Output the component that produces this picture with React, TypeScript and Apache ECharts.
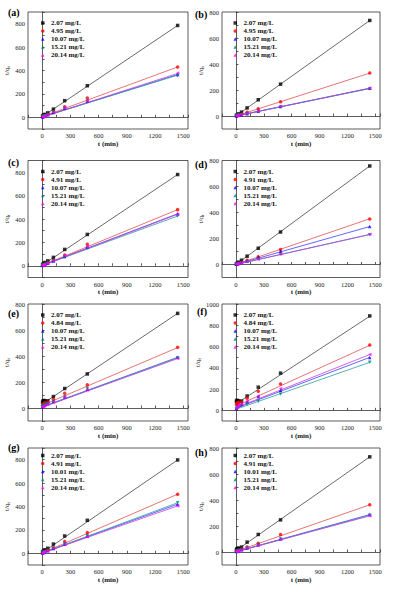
import React, { useEffect, useRef } from 'react';
import * as echarts from 'echarts';

const FONT = '"Liberation Serif", "Times New Roman", serif';

// sampling times (min)
const T_MIN = [5, 10, 20, 30, 60, 120, 240, 480, 1440];
const FIT_T = [0, 1440];

const COLORS = ['#000000', '#ff0000', '#0000ff', '#008080', '#ff00ff'];
const LINE_COLORS = ['#444444', '#e05050', '#3c3cff', '#2e9c9c', '#c43cd8'];
const SYMBOLS = ['rect', 'circle', 'triangle', 'triangle', 'triangle'];
const ROT = [0, 0, 0, 180, 90];

const PANEL_TAGS = ['(a)', '(b)', '(c)', '(d)', '(e)', '(f)', '(g)', '(h)'];
const Y_MAX = [900, 800, 900, 800, 800, 1000, 900, 800];

// (a)
const LABELS_A = ['2.07 mg/L', '4.95 mg/L', '10.07 mg/L', '15.21 mg/L', '20.14 mg/L'];
const VALUES_A = [
  [10, 15, 20, 25, 38, 70, 142, 270, 785],
  [5, 8, 12, 16, 25, 45, 90, 165, 430],
  [3, 6, 10, 14, 22, 40, 78, 140, 365],
  [3, 6, 10, 14, 22, 40, 76, 138, 358],
  [2, 5, 9, 13, 21, 40, 80, 140, 378],
];
const FIT_A = [[5, 785], [5, 430], [3, 365], [2, 360], [2, 375]];

// (b)
const LABELS_B = ['2.07 mg/L', '4.95 mg/L', '10.07 mg/L', '15.21 mg/L', '20.14 mg/L'];
const VALUES_B = [
  [4, 7, 12, 16, 30, 62, 125, 245, 735],
  [2, 4, 7, 9, 15, 28, 55, 110, 330],
  [1, 3, 5, 6, 10, 18, 37, 73, 213],
  [1, 3, 5, 6, 10, 18, 36, 72, 210],
  [1, 2, 4, 6, 10, 19, 37, 74, 215],
];
const FIT_B = [[0, 735], [0, 330], [0, 213], [0, 211], [0, 214]];

// (c)
const LABELS_C = ['2.07 mg/L', '4.91 mg/L', '10.07 mg/L', '15.21 mg/L', '20.14 mg/L'];
const VALUES_C = [
  [10, 14, 22, 28, 42, 72, 140, 268, 780],
  [5, 8, 12, 16, 26, 48, 92, 185, 480],
  [3, 6, 10, 14, 22, 42, 80, 160, 445],
  [3, 6, 10, 13, 21, 40, 75, 150, 425],
  [2, 5, 9, 13, 22, 44, 88, 165, 440],
];
const FIT_C = [[5, 780], [4, 480], [3, 445], [2, 425], [2, 440]];

// (d)
const LABELS_D = ['2.07 mg/L', '4.91 mg/L', '10.07 mg/L', '15.21 mg/L', '20.14 mg/L'];
const VALUES_D = [
  [5, 8, 13, 18, 33, 64, 125, 250, 758],
  [3, 5, 8, 10, 18, 32, 59, 115, 350],
  [2, 4, 6, 9, 15, 28, 55, 102, 292],
  [2, 3, 5, 7, 12, 22, 42, 78, 228],
  [2, 3, 5, 7, 12, 23, 40, 80, 233],
];
const FIT_D = [[0, 758], [0, 352], [0, 292], [0, 230], [0, 232]];

// (e)
const LABELS_E = ['2.07 mg/L', '4.84 mg/L', '10.07 mg/L', '15.21 mg/L', '20.14 mg/L'];
const VALUES_E = [
  [45, 55, 58, 55, 55, 88, 150, 262, 728],
  [20, 28, 35, 40, 45, 68, 114, 178, 467],
  [10, 15, 22, 28, 35, 50, 85, 145, 390],
  [10, 15, 20, 25, 33, 50, 84, 150, 386],
  [5, 10, 15, 20, 30, 48, 80, 138, 380],
];
const FIT_E = [[30, 728], [20, 465], [8, 390], [8, 386], [5, 380]];

// (f)
const LABELS_F = ['2.07 mg/L', '4.84 mg/L', '10.07 mg/L', '15.21 mg/L', '20.14 mg/L'];
const VALUES_F = [
  [85, 95, 90, 88, 87, 135, 218, 350, 888],
  [55, 65, 72, 75, 78, 115, 180, 248, 614],
  [18, 28, 38, 45, 55, 80, 130, 190, 498],
  [15, 22, 30, 35, 45, 60, 85, 155, 452],
  [20, 30, 40, 50, 60, 85, 135, 205, 525],
];
const FIT_F = [[60, 885], [40, 612], [20, 498], [10, 452], [25, 525]];

// (g)
const LABELS_G = ['2.07 mg/L', '4.91 mg/L', '10.01 mg/L', '15.21 mg/L', '20.14 mg/L'];
const VALUES_G = [
  [10, 15, 25, 30, 43, 79, 148, 282, 798],
  [5, 8, 14, 18, 28, 50, 100, 178, 505],
  [3, 6, 10, 14, 22, 42, 80, 150, 420],
  [3, 6, 10, 14, 22, 42, 82, 150, 432],
  [2, 5, 9, 13, 20, 40, 78, 142, 405],
];
const FIT_G = [[5, 798], [2, 505], [2, 420], [2, 432], [1, 405]];

// (h)
const LABELS_H = ['2.07 mg/L', '4.91 mg/L', '10.01 mg/L', '15.21 mg/L', '20.14 mg/L'];
const VALUES_H = [
  [15, 25, 28, 30, 38, 76, 135, 247, 732],
  [5, 8, 12, 16, 22, 38, 68, 135, 363],
  [3, 5, 8, 11, 17, 30, 55, 102, 288],
  [3, 5, 8, 11, 16, 30, 55, 100, 283],
  [2, 4, 7, 10, 15, 28, 52, 97, 278],
];
const FIT_H = [[10, 732], [5, 363], [2, 288], [2, 283], [1, 278]];

const ALL_LABELS = [LABELS_A, LABELS_B, LABELS_C, LABELS_D, LABELS_E, LABELS_F, LABELS_G, LABELS_H];
const ALL_VALUES = [VALUES_A, VALUES_B, VALUES_C, VALUES_D, VALUES_E, VALUES_F, VALUES_G, VALUES_H];
const ALL_FITS = [FIT_A, FIT_B, FIT_C, FIT_D, FIT_E, FIT_F, FIT_G, FIT_H];

// layout
const COL_LEFT = [28, 222];
const COL_WIDTH = [160, 158];
const ROW_TOP = [12, 160.5, 304, 448];
const ROW_H = 117;
const LEGEND_LEFT = [41, 233.5];
const LEGEND_TOP = [19.5, 168, 311.5, 452];
const TAG_POS = [
  [8, 7], [195, 9], [8, 157], [195, 159], [8, 308], [197, 306], [8, 442], [195, 447],
];

function buildOption() {
  const grid: any[] = [];
  const xAxis: any[] = [];
  const yAxis: any[] = [];
  const series: any[] = [];
  const legend: any[] = [];
  const graphic: any[] = [];
  const axisLine = { show: true, lineStyle: { color: '#333', width: 0.8 } };
  const axisTick = { show: true, inside: true, length: 2.5, lineStyle: { color: '#333', width: 0.8 } };

  for (let i = 0; i < 8; i++) {
    const col = i % 2;
    const row = Math.floor(i / 2);
    grid.push({
      left: COL_LEFT[col],
      top: ROW_TOP[row],
      width: COL_WIDTH[col],
      height: ROW_H,
      show: true,
      borderColor: '#333',
      borderWidth: 0.8,
      backgroundColor: 'transparent',
    });
    xAxis.push({
      gridIndex: i,
      type: 'value',
      min: -150,
      max: 1550,
      interval: 150,
      axisLine,
      axisTick,
      splitLine: { show: false },
      axisLabel: {
        fontFamily: FONT,
        fontSize: 6.5,
        color: '#222',
        margin: 3,
        formatter: (v: number) => (v >= 0 && v % 300 === 0 ? String(v) : ''),
      },
      name: 't (min)',
      nameLocation: 'middle',
      nameGap: 11,
      nameTextStyle: { fontFamily: FONT, fontSize: 7, fontWeight: 'bold', color: '#111' },
    });
    yAxis.push({
      gridIndex: i,
      type: 'value',
      min: -100,
      max: Y_MAX[i],
      interval: 100,
      axisLine,
      axisTick,
      splitLine: { show: false },
      axisLabel: {
        fontFamily: FONT,
        fontSize: 6.5,
        color: '#222',
        margin: 3,
        formatter: (v: number) => (v >= 0 && v % 200 === 0 ? String(v) : ''),
      },
      name: '{n|t/q}{s|t}',
      nameLocation: 'middle',
      nameGap: 15,
      nameTextStyle: {
        fontFamily: FONT,
        fontSize: 7,
        color: '#111',
        rich: {
          n: { fontFamily: FONT, fontSize: 7, color: '#111' },
          s: { fontFamily: FONT, fontSize: 5, color: '#111', verticalAlign: 'bottom', lineHeight: 9 },
        },
      },
    });

    const labels = ALL_LABELS[i];
    const values = ALL_VALUES[i];
    const fits = ALL_FITS[i];
    for (let k = 0; k < 5; k++) {
      series.push({
        type: 'line',
        name: `fit-${i}-${k}`,
        xAxisIndex: i,
        yAxisIndex: i,
        data: FIT_T.map((t, j) => [t, fits[k][j]]),
        symbol: 'none',
        silent: true,
        lineStyle: { color: LINE_COLORS[k], width: 0.8 },
        z: 2,
      });
    }
    for (let k = 0; k < 5; k++) {
      series.push({
        type: 'scatter',
        name: labels[k],
        xAxisIndex: i,
        yAxisIndex: i,
        data: T_MIN.map((t, j) => [t, values[k][j]]),
        symbol: SYMBOLS[k],
        symbolRotate: ROT[k],
        symbolSize: 3.5,
        itemStyle: { color: COLORS[k] },
        z: 3,
      });
    }
    legend.push({
      orient: 'vertical',
      left: LEGEND_LEFT[col],
      top: LEGEND_TOP[row],
      padding: 0,
      itemWidth: 3.5,
      itemHeight: 3.5,
      itemGap: 1,
      selectedMode: false,
      data: labels,
      textStyle: { fontFamily: FONT, fontSize: 7, fontWeight: 'bold', color: '#111', lineHeight: 7, padding: [0, 0, 0, 1.5] },
    });
    graphic.push({
      type: 'text',
      x: TAG_POS[i][0],
      y: TAG_POS[i][1],
      style: { text: PANEL_TAGS[i], font: `bold 10px ${FONT}`, fill: '#000' },
    });
  }

  return {
    animation: false,
    backgroundColor: '#ffffff',
    grid,
    xAxis,
    yAxis,
    series,
    legend,
    graphic,
  };
}

export default function App() {
  const ref = useRef<HTMLDivElement>(null);
  useEffect(() => {
    if (!ref.current) return;
    const chart = echarts.init(ref.current, null, { renderer: 'svg' });
    chart.setOption(buildOption() as any);
    return () => chart.dispose();
  }, []);
  return (
    <div
      ref={ref}
      style={{ position: 'fixed', left: 0, top: 0, width: 393, height: 592, background: '#fff' }}
    />
  );
}
